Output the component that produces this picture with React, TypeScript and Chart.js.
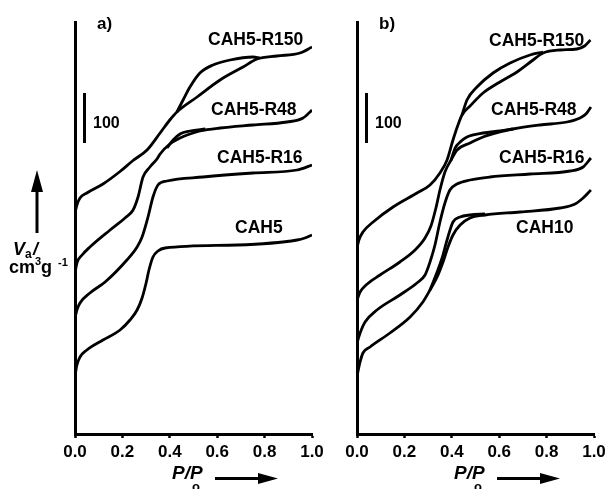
import React, { useEffect, useRef } from "react";
import { Chart, registerables } from "chart.js";
Chart.register(...registerables);

const FAM = '"Liberation Sans", Arial, Helvetica, sans-serif';

const X_TICKS = [0, 0.2, 0.4, 0.6, 0.8, 1.0];
const Y_MAX = 824;
const SCALE_BAR_TOP = 682;
const SCALE_BAR_LEN = 100;

const LABELS_A = ["CAH5-R150", "CAH5-R48", "CAH5-R16", "CAH5"];
const LABELS_B = ["CAH5-R150", "CAH5-R48", "CAH5-R16", "CAH10"];

// ---------- panel a ----------
const A_R150_ADS_X = [0, 0.008, 0.021, 0.05, 0.118, 0.19, 0.245, 0.304, 0.359, 0.4, 0.43, 0.515, 0.612, 0.709, 0.768, 0.852, 0.949, 1.0];
const A_R150_ADS_Y = [442, 458, 472, 482, 500, 525, 547, 568, 602, 628, 644, 674, 708, 734, 750, 756, 762, 774];
const A_R150_DES_X = [0.43, 0.456, 0.485, 0.527, 0.582, 0.654, 0.751, 0.78];
const A_R150_DES_Y = [644, 668, 694, 722, 738, 748, 754, 752];

const A_R48_ADS_X = [0, 0.008, 0.03, 0.063, 0.148, 0.211, 0.245, 0.266, 0.287, 0.316, 0.346, 0.359, 0.4, 0.443, 0.485, 0.527, 0.612, 0.751, 0.895, 0.962, 1.0];
const A_R48_ADS_Y = [322, 342, 358, 374, 408, 432, 448, 474, 514, 534, 550, 560, 580, 592, 600, 606, 612, 618, 624, 632, 648];
const A_R48_DES_X = [0.388, 0.414, 0.443, 0.485, 0.55];
const A_R48_DES_Y = [572, 588, 600, 606, 610];

const A_R16_X = [0, 0.008, 0.021, 0.063, 0.127, 0.219, 0.262, 0.283, 0.308, 0.329, 0.35, 0.388, 0.54, 0.751, 0.937, 1.0];
const A_R16_Y = [232, 248, 262, 282, 304, 348, 374, 394, 434, 474, 498, 506, 514, 522, 528, 538];

const A_CAH5_X = [0, 0.008, 0.021, 0.05, 0.118, 0.19, 0.232, 0.262, 0.283, 0.3, 0.312, 0.329, 0.35, 0.38, 0.684, 0.937, 0.97, 1.0];
const A_CAH5_Y = [116, 138, 154, 168, 188, 208, 228, 248, 272, 302, 328, 354, 366, 372, 378, 388, 392, 398];

// ---------- panel b ----------
const B_R150_ADS_X = [0, 0.008, 0.025, 0.068, 0.152, 0.253, 0.308, 0.35, 0.38, 0.405, 0.426, 0.443, 0.477, 0.532, 0.603, 0.675, 0.743, 0.785, 0.857, 0.928, 0.96, 0.985];
const B_R150_ADS_Y = [372, 388, 404, 424, 454, 482, 498, 522, 548, 588, 618, 638, 656, 682, 704, 724, 748, 762, 768, 770, 776, 788];
const B_R150_DES_X = [0.443, 0.464, 0.506, 0.574, 0.646, 0.73, 0.785];
const B_R150_DES_Y = [638, 668, 694, 722, 742, 758, 764];

const B_R48_ADS_X = [0, 0.013, 0.038, 0.097, 0.181, 0.245, 0.287, 0.312, 0.333, 0.35, 0.371, 0.397, 0.422, 0.477, 0.532, 0.603, 0.658, 0.772, 0.886, 0.941, 0.966, 0.987];
const B_R48_ADS_Y = [268, 284, 298, 318, 344, 368, 392, 416, 452, 488, 524, 548, 568, 582, 594, 604, 610, 618, 624, 632, 640, 654];
const B_R48_DES_X = [0.397, 0.414, 0.435, 0.464, 0.532, 0.603, 0.658];
const B_R48_DES_Y = [548, 572, 584, 594, 602, 606, 610];

const B_R16_X = [0, 0.013, 0.034, 0.084, 0.181, 0.253, 0.287, 0.308, 0.329, 0.35, 0.371, 0.392, 0.422, 0.477, 0.561, 0.73, 0.899, 0.954, 0.987];
const B_R16_Y = [182, 202, 224, 248, 278, 302, 318, 344, 378, 424, 462, 488, 500, 508, 514, 520, 526, 534, 552];

const B_CAH10_ADS_X = [0, 0.013, 0.025, 0.055, 0.139, 0.224, 0.278, 0.308, 0.338, 0.363, 0.384, 0.405, 0.435, 0.477, 0.54, 0.688, 0.857, 0.92, 0.954, 0.987];
const B_CAH10_ADS_Y = [116, 144, 162, 174, 202, 234, 264, 288, 314, 344, 374, 398, 418, 432, 438, 444, 452, 460, 472, 488];
const B_CAH10_DES_X = [0.308, 0.338, 0.359, 0.38, 0.405, 0.435, 0.477, 0.54];
const B_CAH10_DES_Y = [288, 324, 352, 388, 424, 434, 438, 440];

const SERIES_A = [
  [A_R150_ADS_X, A_R150_ADS_Y], [A_R150_DES_X, A_R150_DES_Y],
  [A_R48_ADS_X, A_R48_ADS_Y], [A_R48_DES_X, A_R48_DES_Y],
  [A_R16_X, A_R16_Y], [A_CAH5_X, A_CAH5_Y],
];
const SERIES_B = [
  [B_R150_ADS_X, B_R150_ADS_Y], [B_R150_DES_X, B_R150_DES_Y],
  [B_R48_ADS_X, B_R48_ADS_Y], [B_R48_DES_X, B_R48_DES_Y],
  [B_R16_X, B_R16_Y],
  [B_CAH10_ADS_X, B_CAH10_ADS_Y], [B_CAH10_DES_X, B_CAH10_DES_Y],
];

function hArrow(ctx: CanvasRenderingContext2D, x0: number, x1: number, y: number, hl: number, hh: number) {
  ctx.lineWidth = 3;
  ctx.beginPath(); ctx.moveTo(x0, y); ctx.lineTo(x1 - hl + 1, y); ctx.stroke();
  ctx.beginPath(); ctx.moveTo(x1, y); ctx.lineTo(x1 - hl, y - hh); ctx.lineTo(x1 - hl, y + hh); ctx.closePath(); ctx.fill();
}

const annotPlugin = {
  id: "annot",
  afterDraw(chart: any, _a: any, o: any) {
    const { ctx, chartArea: a, scales } = chart;
    const L = a.left;
    ctx.save();
    ctx.fillStyle = "#000";
    ctx.strokeStyle = "#000";
    ctx.textAlign = "left";
    ctx.textBaseline = "alphabetic";
    // panel letter
    ctx.font = `bold 17px ${FAM}`;
    ctx.fillText(o.panel, L + 22, 29);
    // scale bar
    const y1 = scales.y.getPixelForValue(SCALE_BAR_TOP);
    const y2 = scales.y.getPixelForValue(SCALE_BAR_TOP - SCALE_BAR_LEN);
    ctx.lineWidth = 3;
    ctx.beginPath(); ctx.moveTo(L + 9.5, y1); ctx.lineTo(L + 9.5, y2); ctx.stroke();
    ctx.font = `bold 16px ${FAM}`;
    ctx.fillText(String(SCALE_BAR_LEN), L + 18, y1 + 35);
    // curve labels
    ctx.font = `bold 17.5px ${FAM}`;
    o.labels.forEach((t: string, i: number) => ctx.fillText(t, o.pos[i][0], o.pos[i][1]));
    // x title
    ctx.font = `italic bold 19px ${FAM}`;
    ctx.fillText("P/P", L + 97, 479);
    ctx.font = `bold 13px ${FAM}`;
    ctx.fillText("o", L + 117, 491);
    hArrow(ctx, L + 140, L + 203, 478.5, 20, 5.5);
    if (o.yTitle) {
      // vertical arrow
      ctx.lineWidth = 3;
      ctx.beginPath(); ctx.moveTo(37, 233); ctx.lineTo(37, 191); ctx.stroke();
      ctx.beginPath(); ctx.moveTo(37, 170); ctx.lineTo(31, 192); ctx.lineTo(43, 192); ctx.closePath(); ctx.fill();
      ctx.font = `italic bold 18px ${FAM}`;
      ctx.fillText("V", 13, 255);
      ctx.font = `bold 12px ${FAM}`;
      ctx.fillText("a", 25, 258);
      ctx.font = `italic bold 18px ${FAM}`;
      ctx.fillText("/", 33, 255);
      ctx.font = `bold 18px ${FAM}`;
      ctx.fillText("cm", 9, 273);
      ctx.fillText("g", 41, 273);
      ctx.font = `bold 11px ${FAM}`;
      ctx.fillText("3", 35, 265);
      ctx.fillText("-1", 58, 266);
    }
    ctx.restore();
  },
};

function makeConfig(series: number[][][], plug: any) {
  return {
    type: "line" as const,
    data: {
      datasets: series.map(([xs, ys]) => ({
        data: xs.map((x, i) => ({ x, y: ys[i] })),
        borderColor: "#000",
        borderWidth: 2.8,
        pointRadius: 0,
        fill: false,
        cubicInterpolationMode: "monotone" as const,
      })),
    },
    options: {
      animation: false as const,
      responsive: false,
      events: [],
      layout: { padding: { left: 75, right: 18, top: 22, bottom: 25 } },
      plugins: { legend: { display: false }, tooltip: { enabled: false }, annot: plug },
      scales: {
        x: {
          type: "linear" as const,
          min: 0,
          max: 1,
          afterBuildTicks: (s: any) => { s.ticks = X_TICKS.map((v) => ({ value: v })); },
          afterFit: (s: any) => { s.height = 30; },
          ticks: {
            callback: (v: any) => Number(v).toFixed(1),
            font: { family: FAM, size: 17, weight: "bold" as const },
            color: "#000",
            padding: 4,
            maxRotation: 0,
            autoSkip: false,
          },
          grid: { display: true, drawOnChartArea: false, drawTicks: true, tickLength: 4, tickWidth: 2.5, tickColor: "#000", color: "#000" },
          border: { display: true, color: "#000", width: 3 },
        },
        y: {
          min: 0,
          max: Y_MAX,
          afterFit: (s: any) => { s.width = 0; },
          ticks: { display: false },
          grid: { display: false, drawTicks: false },
          border: { display: true, color: "#000", width: 3 },
        },
      },
    },
    plugins: [annotPlugin],
  };
}

function Panel({ left, series, plug }: { left: number; series: number[][][]; plug: any }) {
  const ref = useRef<HTMLCanvasElement>(null);
  useEffect(() => {
    const chart = new Chart(ref.current as HTMLCanvasElement, makeConfig(series, plug) as any);
    return () => chart.destroy();
  }, []);
  return (
    <canvas
      ref={ref}
      width={330}
      height={489}
      style={{ position: "absolute", left, top: 0, width: 330, height: 489 }}
    />
  );
}

export default function App() {
  return (
    <div style={{ position: "absolute", left: 0, top: 0, width: 605, height: 489, overflow: "hidden", background: "#fff" }}>
      <Panel
        left={0}
        series={SERIES_A}
        plug={{ panel: "a)", labels: LABELS_A, pos: [[208, 45], [211, 115], [217, 163], [235, 233]], yTitle: true }}
      />
      <Panel
        left={282}
        series={SERIES_B}
        plug={{ panel: "b)", labels: LABELS_B, pos: [[207, 46], [209, 115], [217, 163], [234, 233]], yTitle: false }}
      />
    </div>
  );
}
